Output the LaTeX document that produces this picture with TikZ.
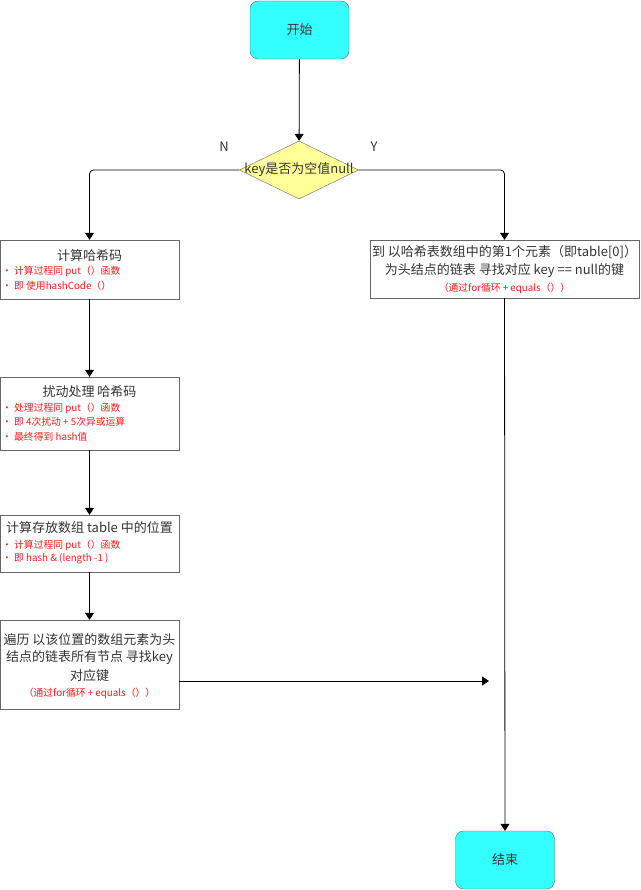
\documentclass[tikz,border=0pt]{standalone}
\usepackage{fontspec}
\setmainfont{Noto Sans CJK SC}
\usetikzlibrary{arrows.meta,shapes.geometric,positioning}
\definecolor{termcyan}{HTML}{33FFFF}
\definecolor{decyellow}{HTML}{FFFF99}
\definecolor{boxgray}{HTML}{666666}
\definecolor{textdark}{HTML}{333333}
\definecolor{notered}{HTML}{FF1A1A}
\tikzset{
    terminal/.style={draw=boxgray, fill=termcyan, rounded corners=8pt, minimum width=99pt, minimum height=58pt, inner sep=0pt},
    decision/.style={diamond, draw=boxgray, fill=decyellow, minimum width=119pt, minimum height=58pt, inner sep=0pt},
    procbox/.style={draw=boxgray, fill=white, minimum width=179pt, inner sep=0pt},
    maintext/.style={font=\fontsize{13}{15}\selectfont, text=textdark, inner sep=0pt},
    redline/.style={font=\fontsize{9.8}{11}\selectfont, text=notered, inner sep=0pt},
    flow/.style={-{Triangle[length=7pt, width=9pt]}, black, line width=0.8pt}
}

\begin{document}
\begin{tikzpicture}[x=1pt, y=-1pt]
\useasboundingbox (0,0) rectangle (640,890);
% terminals and decision
\node[terminal] (start) at (299.5,30) {};
\node[maintext] (starttxt) at (start.center) {开始};
\node[decision] (dec) at (299,170) {};
\node[maintext] (dectxt) at (dec.center) {key是否为空值null};
\node[maintext] (nlabel) at (224,147) {N};
\node[maintext] (ylabel) at (374,147) {Y};
\node[terminal] (end) at (505,860) {};
\node[maintext] (endtxt) at (end.center) {结束};

% left column
\node[procbox, minimum height=59pt] (hash) at (89.5,269.5) {};
\node[maintext] (hashtitle) at (89.5,256) {计算哈希码};
\node[redline, anchor=west] (hashl1) at (2,271) {• 计算过程同 put（）函数};
\node[redline, anchor=west] (hashl2) at (2,286) {• 即 使用hashCode（）};

\node[procbox, minimum height=73pt] (spread) at (89.5,413.5) {};
\node[maintext] (spreadtitle) at (89.5,392) {扰动处理 哈希码};
\node[redline, anchor=west] (spreadl1) at (2,408) {• 处理过程同 put（）函数};
\node[redline, anchor=west] (spreadl2) at (2,422) {• 即 4次扰动 + 5次异或运算};
\node[redline, anchor=west] (spreadl3) at (2,437) {• 最终得到 hash值};

\node[procbox, minimum height=57pt] (index) at (89.5,543.5) {};
\node[maintext] (indextitle) at (89.5,528) {计算存放数组 table 中的位置};
\node[redline, anchor=west] (indexl1) at (2,545) {• 计算过程同 put（）函数};
\node[redline, anchor=west] (indexl2) at (2,559) {• 即 hash \& (length -1 )};

\node[procbox, minimum height=89pt] (walk) at (89.5,664.5) {};
\node[maintext] (walkl1) at (89.5,640) {遍历 以该位置的数组元素为头};
\node[maintext] (walkl2) at (89.5,658) {结点的链表所有节点 寻找key};
\node[maintext] (walkl3) at (89.5,676) {对应键};
\node[redline] (walkl4) at (89.5,693) {（通过for循环 + equals（））};

% right column
\node[procbox, minimum width=269pt, minimum height=58pt] (nullbox) at (504.5,269) {};
\node[maintext] (nulll1) at (504.5,252) {到 以哈希表数组中的第1个元素（即table[0]）};
\node[maintext] (nulll2) at (504.5,271) {为头结点的链表 寻找对应 key == null的键};
\node[redline] (nulll3) at (504.5,288) {（通过for循环 + equals（））};

\coordinate (joinpt) at (489,681);

% connectors
\draw[flow] (start) -- (dec);
\draw[flow, rounded corners=4pt] (dec.west) -| (hash);
\draw[flow, rounded corners=4pt] (dec.east) -| (nullbox);
\draw[flow] (hash) -- (spread);
\draw[flow] (spread) -- (index);
\draw[flow] (index) -- (walk);
\draw[flow] (walk.east |- joinpt) -- (joinpt);
\draw[flow] (nullbox) -- (end);
\end{tikzpicture}
\end{document}
